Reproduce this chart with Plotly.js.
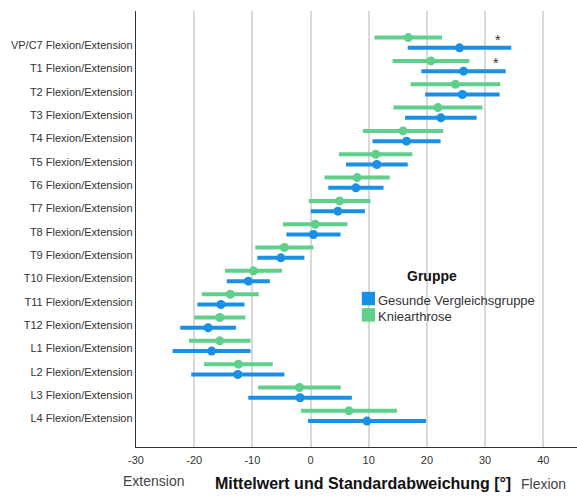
<!DOCTYPE html>
<html>
<head>
<meta charset="utf-8">
<script src="https://cdn.plot.ly/plotly-3.0.1.min.js"></script>
<style>html,body{margin:0;padding:0;background:#fff;}#chart{width:577px;height:499px;}</style>
</head>
<body>
<div id="chart"></div>
<script>
var categories = ["VP/C7 Flexion/Extension","T1 Flexion/Extension","T2 Flexion/Extension","T3 Flexion/Extension","T4 Flexion/Extension","T5 Flexion/Extension","T6 Flexion/Extension","T7 Flexion/Extension","T8 Flexion/Extension","T9 Flexion/Extension","T10 Flexion/Extension","T11 Flexion/Extension","T12 Flexion/Extension","L1 Flexion/Extension","L2 Flexion/Extension","L3 Flexion/Extension","L4 Flexion/Extension"];
var gesundeMean = [25.6, 26.3, 26.1, 22.4, 16.5, 11.4, 7.8, 4.7, 0.5, -5.1, -10.7, -15.4, -17.6, -17.0, -12.5, -1.8, 9.7];
var gesundeSD   = [8.9, 7.25, 6.4, 6.15, 5.85, 5.3, 4.75, 4.65, 4.65, 4.05, 3.7, 4.05, 4.8, 6.7, 8.0, 8.9, 10.15];
var knieMean    = [16.8, 20.7, 24.9, 21.9, 15.9, 11.2, 8.0, 5.0, 0.8, -4.5, -9.8, -13.8, -15.6, -15.6, -12.4, -1.9, 6.6];
var knieSD      = [5.8, 6.6, 7.7, 7.65, 6.9, 6.3, 5.6, 5.3, 5.55, 5.0, 4.9, 4.9, 4.4, 5.3, 5.9, 7.1, 8.25];
var starCategories = ["VP/C7 Flexion/Extension","T1 Flexion/Extension"];
var starX = [32.2, 31.9];
var xTicks = [-30,-20,-10,0,10,20,30,40];

var blue = "#1a8fe6";
var green = "#5fcf8b";
var idx = categories.map(function(c,i){return i;});
var knieY = idx.map(function(i){return i - 0.32;});
var gesY = idx.map(function(i){return i + 0.12;});

var traces = [
  {type:"scatter", mode:"markers", name:"Kniearthrose", x:knieMean, y:knieY,
   marker:{color:green, size:9},
   error_x:{type:"data", array:knieSD, visible:true, color:green, thickness:4, width:0},
   showlegend:false, hoverinfo:"x"},
  {type:"scatter", mode:"markers", name:"Gesunde Vergleichsgruppe", x:gesundeMean, y:gesY,
   marker:{color:blue, size:9},
   error_x:{type:"data", array:gesundeSD, visible:true, color:blue, thickness:4, width:0},
   showlegend:false, hoverinfo:"x"}
];

var annotations = [];
starCategories.forEach(function(c,k){
  annotations.push({xref:"x", yref:"y", x:starX[k], y:categories.indexOf(c) - 0.32, text:"*", showarrow:false,
    font:{family:"Liberation Sans, Arial, sans-serif", size:14, color:"#333"}, yshift:-2});
});
var fam = "Liberation Sans, Arial, sans-serif";
annotations.push({xref:"paper", yref:"paper", x:0.514, y:-0.083, text:"<b>Mittelwert und Standardabweichung [°]</b>", showarrow:false, xanchor:"center", yanchor:"middle", font:{family:fam, size:16, color:"#111"}});
annotations.push({xref:"paper", yref:"paper", x:0.040, y:-0.079, text:"Extension", showarrow:false, xanchor:"center", yanchor:"middle", font:{family:fam, size:14, color:"#444"}});
annotations.push({xref:"paper", yref:"paper", x:0.925, y:-0.086, text:"Flexion", showarrow:false, xanchor:"center", yanchor:"middle", font:{family:fam, size:14, color:"#444"}});
// legend
annotations.push({xref:"paper", yref:"paper", x:0.671, y:0.392, text:"<b>Gruppe</b>", showarrow:false, xanchor:"center", yanchor:"middle", font:{family:fam, size:14, color:"#111"}});
annotations.push({xref:"paper", yref:"paper", x:0.545, y:0.3356, text:"Gesunde Vergleichsgruppe", showarrow:false, xanchor:"left", yanchor:"middle", font:{family:fam, size:13, color:"#333"}});
annotations.push({xref:"paper", yref:"paper", x:0.545, y:0.300, text:"Kniearthrose", showarrow:false, xanchor:"left", yanchor:"middle", font:{family:fam, size:13, color:"#333"}});

var shapes = [
  {type:"rect", xref:"paper", yref:"paper", x0:0.512, x1:0.542, y0:0.325, y1:0.356, fillcolor:blue, line:{width:0}},
  {type:"rect", xref:"paper", yref:"paper", x0:0.512, x1:0.542, y0:0.2875, y1:0.3185, fillcolor:green, line:{width:0}}
];

var layout = {
  width:577, height:499,
  margin:{l:136, r:0, t:11, b:52},
  paper_bgcolor:"#fff", plot_bgcolor:"#fff",
  showlegend:false,
  xaxis:{range:[-30,45.8], tickvals:xTicks, ticktext:xTicks.map(String), showgrid:true, gridcolor:"#d9d9d9", gridwidth:2,
    zeroline:false, showline:true, linecolor:"#333", linewidth:1, ticks:"", ticklabelstandoff:3, tickfont:{family:fam, size:11, color:"#333"}, fixedrange:true},
  yaxis:{range:[17.23,-1.46], tickvals:idx, ticktext:categories, showgrid:false, zeroline:false, showline:true, linecolor:"#333", linewidth:1.2,
    ticks:"", ticklen:0, tickfont:{family:fam, size:11, color:"#333"}, fixedrange:true},
  annotations:annotations,
  shapes:shapes
};
Plotly.newPlot("chart", traces, layout, {displayModeBar:false, staticPlot:true});
</script>
</body>
</html>
